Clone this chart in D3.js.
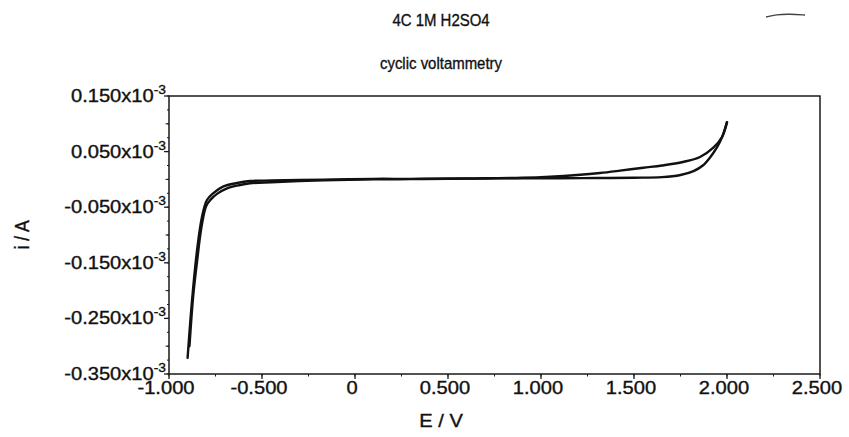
<!DOCTYPE html>
<html>
<head>
<meta charset="utf-8">
<script src="https://cdn.jsdelivr.net/npm/d3@7/dist/d3.min.js"></script>
<style>
  html, body { margin: 0; padding: 0; background: #fff; }
  svg { display: block; }
  text { font-family: "Liberation Sans", Arial, Helvetica, sans-serif; fill: #111; stroke: #111; stroke-width: 0.35px; }
</style>
</head>
<body>
<div id="chart"></div>
<script>
// ---- data (E in V, i in A) ----
const title = "4C 1M H2SO4";
const subtitle = "cyclic voltammetry";
const xLabel = "E / V";
const yLabel = "i / A";

// forward scan: from cathodic limit up to anodic limit
const forwardE = [-0.900, -0.876, -0.849, -0.823, -0.796, -0.763, -0.710, -0.634, -0.565, -0.450, -0.300, -0.100, 0.100, 0.300, 0.500, 0.700, 0.900, 1.100, 1.300, 1.500, 1.650, 1.750, 1.820, 1.870, 1.910, 1.945, 1.975, 2.000];
const forwardI = [-0.321e-3, -0.217e-3, -0.127e-3, -0.068e-3, -0.037e-3, -0.025e-3, -0.013e-3, -0.0065e-3, -0.003e-3, -0.002e-3, -0.001e-3, 0.000e-3, 0.001e-3, 0.001e-3, 0.0015e-3, 0.0015e-3, 0.002e-3, 0.002e-3, 0.0025e-3, 0.003e-3, 0.004e-3, 0.008e-3, 0.015e-3, 0.025e-3, 0.040e-3, 0.057e-3, 0.077e-3, 0.103e-3];

// reverse scan: from anodic limit back to cathodic limit
const reverseE = [2.000, 1.973, 1.925, 1.855, 1.763, 1.650, 1.550, 1.425, 1.317, 1.194, 1.050, 0.900, 0.700, 0.500, 0.300, 0.100, -0.100, -0.300, -0.450, -0.565, -0.618, -0.688, -0.742, -0.775, -0.800, -0.825, -0.850, -0.870, -0.890];
const reverseI = [0.103e-3, 0.0763e-3, 0.0565e-3, 0.0403e-3, 0.0313e-3, 0.025e-3, 0.021e-3, 0.0157e-3, 0.0115e-3, 0.008e-3, 0.005e-3, 0.003e-3, 0.002e-3, 0.001e-3, 0.0005e-3, 0.000e-3, -0.001e-3, -0.003e-3, -0.005e-3, -0.007e-3, -0.010e-3, -0.016e-3, -0.026e-3, -0.036e-3, -0.048e-3, -0.085e-3, -0.150e-3, -0.210e-3, -0.300e-3];

const xTicks = [-1.0, -0.5, 0, 0.5, 1.0, 1.5, 2.0, 2.5];
const xTickLabels = ["-1.000", "-0.500", "0", "0.500", "1.000", "1.500", "2.000", "2.500"];
const yTicks = [0.15e-3, 0.05e-3, -0.05e-3, -0.15e-3, -0.25e-3, -0.35e-3];
const yTickLabels = ["0.150x10", "0.050x10", "-0.050x10", "-0.150x10", "-0.250x10", "-0.350x10"];
const yTickExp = "-3";

// ---- layout ----
const W = 849, H = 437;
const M = { left: 169, right: 29, top: 96, bottom: 63 };
const svg = d3.select("#chart").append("svg").attr("width", W).attr("height", H);

const x = d3.scaleLinear().domain([-1.0, 2.5]).range([M.left, W - M.right]);
const y = d3.scaleLinear().domain([-0.35e-3, 0.15e-3]).range([H - M.bottom, M.top]);

const ink = "#1a1a1a";
const sx = 1.15; // horizontal stretch of the axis lettering
const fs = 17.5;

// minor ticks
const yMinor = d3.range(-0.35e-3, 0.1501e-3, 0.025e-3);
const yMid = d3.range(-0.30e-3, 0.1001e-3, 0.1e-3);
const xMinor = d3.range(-1.0, 2.5001, 0.25);

const g = svg.append("g");

// frame
g.append("rect")
  .attr("x", x(-1.0)).attr("y", y(0.15e-3))
  .attr("width", x(2.5) - x(-1.0)).attr("height", y(-0.35e-3) - y(0.15e-3))
  .attr("fill", "none").attr("stroke", ink).attr("stroke-width", 1.5);

// y ticks
g.selectAll(".ymin").data(yMinor).join("line")
  .attr("x1", x(-1.0) - 2).attr("x2", x(-1.0))
  .attr("y1", d => y(d)).attr("y2", d => y(d))
  .attr("stroke", ink).attr("stroke-width", 1);
g.selectAll(".ymid").data(yMid).join("line")
  .attr("x1", x(-1.0) - 3.5).attr("x2", x(-1.0))
  .attr("y1", d => y(d)).attr("y2", d => y(d))
  .attr("stroke", ink).attr("stroke-width", 1);
g.selectAll(".ymaj").data(yTicks).join("line")
  .attr("x1", x(-1.0) - 5).attr("x2", x(-1.0))
  .attr("y1", d => y(d)).attr("y2", d => y(d))
  .attr("stroke", ink).attr("stroke-width", 1.3);

// x ticks
g.selectAll(".xmin").data(xMinor).join("line")
  .attr("x1", d => x(d)).attr("x2", d => x(d))
  .attr("y1", y(-0.35e-3)).attr("y2", y(-0.35e-3) + 2.5)
  .attr("stroke", ink).attr("stroke-width", 1);
g.selectAll(".xmaj").data(xTicks).join("line")
  .attr("x1", d => x(d)).attr("x2", d => x(d))
  .attr("y1", y(-0.35e-3)).attr("y2", y(-0.35e-3) + 5)
  .attr("stroke", ink).attr("stroke-width", 1.3);

// x tick labels
xTicks.forEach((t, k) => {
  g.append("text")
    .attr("transform", `translate(${x(t) - 3},${y(-0.35e-3) + 20}) scale(${sx},1)`)
    .attr("text-anchor", "middle")
    .attr("font-size", fs)
    .text(xTickLabels[k]);
});

// y tick labels with superscript
yTicks.forEach((t, k) => {
  const tx = g.append("text")
    .attr("transform", `translate(${x(-1.0) - 3},${y(t) + 6}) scale(${sx},1)`)
    .attr("text-anchor", "end")
    .attr("font-size", fs);
  tx.append("tspan").text(yTickLabels[k]);
  tx.append("tspan").attr("font-size", 12).attr("dy", -8).text(yTickExp);
});

// axis titles
svg.append("text")
  .attr("transform", `translate(441,${H - 10}) scale(${sx},1)`)
  .attr("text-anchor", "middle").attr("font-size", fs).text(xLabel);
svg.append("text")
  .attr("transform", `translate(29,${(y(0.15e-3) + y(-0.35e-3)) / 2}) rotate(-90) scale(1,${sx})`)
  .attr("text-anchor", "middle").attr("font-size", fs).text(yLabel);

// titles (narrower lettering)
svg.append("text")
  .attr("transform", `translate(441,26) scale(0.88,1)`)
  .attr("text-anchor", "middle").attr("font-size", 17).text(title);
svg.append("text")
  .attr("transform", `translate(441,69) scale(0.88,1)`)
  .attr("text-anchor", "middle").attr("font-size", 17).text(subtitle);

// legend stroke (top right)
const legend = [[766, 17], [776, 14.5], [790, 14], [805, 15]];
svg.append("path")
  .attr("d", d3.line().curve(d3.curveBasis)(legend))
  .attr("fill", "none").attr("stroke", "#444").attr("stroke-width", 1.3);

// curve
const line = d3.line().x(d => x(d[0])).y(d => y(d[1])).curve(d3.curveCatmullRom.alpha(0.5));
const fwd = forwardE.map((e, k) => [e, forwardI[k]]);
const rev = reverseE.map((e, k) => [e, reverseI[k]]);
[fwd, rev].forEach(data => {
  svg.append("path")
    .attr("d", line(data))
    .attr("fill", "none").attr("stroke", "#111").attr("stroke-width", 2.4)
    .attr("stroke-linejoin", "round").attr("stroke-linecap", "round");
});
</script>
</body>
</html>
